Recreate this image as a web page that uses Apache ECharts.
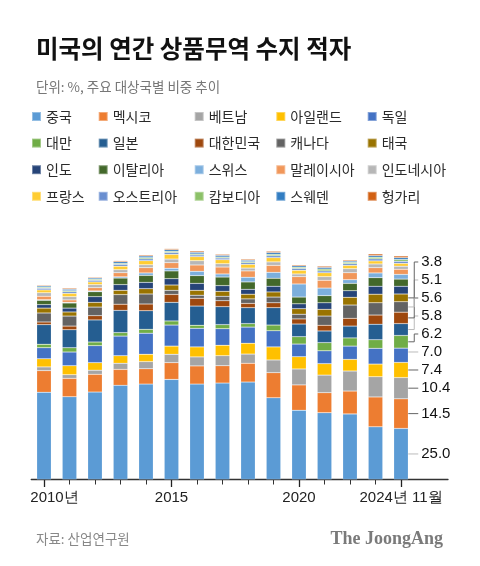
<!DOCTYPE html>
<html><head><meta charset="utf-8">
<script src="https://cdn.jsdelivr.net/npm/echarts@6/dist/echarts.min.js"></script>
<style>html,body{margin:0;padding:0;background:#fff}#c{width:480px;height:566px}</style>
</head><body><div id="c"></div>
<script>
// ---- data ----
const years = [2010,2011,2012,2013,2014,2015,2016,2017,2018,2019,2020,2021,2022,2023,2024];
const countries = ['중국','멕시코','베트남','아일랜드','독일','대만','일본','대한민국','캐나다','태국','인도','이탈리아','스위스','말레이시아','인도네시아','프랑스','오스트리아','캄보디아','스웨덴','헝가리'];
const china      = [42.7,40.5,42.8,46.1,46.7,49.0,46.7,47.2,47.7,40.0,33.9,32.7,32.1,25.8,25.0];
const mexico     = [10.6, 9.0, 8.7, 7.8, 7.5, 8.2, 8.9, 8.5, 9.2,12.3,12.4, 9.8,11.2,14.6,14.5];
const vietnam    = [ 1.8, 1.8, 2.0, 3.0, 3.5, 4.1, 4.4, 4.9, 4.5, 6.2, 7.8, 8.6, 9.8, 9.9,10.4];
const ireland    = [ 4.0, 4.4, 3.7, 3.7, 3.6, 4.0, 4.9, 5.1, 5.3, 6.4, 6.0, 5.6, 5.7, 6.2, 7.4];
const germany    = [ 5.4, 6.7, 8.3, 9.6,10.3,10.3, 9.1, 8.1, 7.9, 7.9, 6.2, 6.3, 6.5, 7.7, 7.0];
const taiwan     = [ 1.7, 2.1, 1.8, 1.7, 1.9, 2.0, 1.5, 2.0, 1.7, 2.8, 3.6, 4.0, 4.0, 4.2, 6.2];
const japan      = [ 9.6, 8.8,10.8,10.9, 9.1, 9.1, 9.4, 8.8, 7.8, 8.5, 6.2, 5.7, 5.8, 7.6, 5.8];
const korea      = [ 1.3, 1.8, 2.1, 3.0, 3.3, 3.9, 3.8, 2.9, 2.1, 2.4, 2.5, 2.8, 3.8, 4.5, 5.6];
const canada     = [ 4.4, 4.9, 4.2, 4.7, 4.9, 2.0, 1.5, 2.2, 2.2, 2.8, 2.3, 4.5, 6.5, 6.0, 5.1];
const thailand   = [ 2.4, 2.0, 2.3, 2.1, 2.6, 2.6, 2.4, 2.4, 2.3, 2.5, 2.7, 3.3, 3.8, 4.2, 3.8];
const india      = [ 1.7, 1.9, 2.8, 2.8, 3.1, 3.1, 3.4, 2.8, 2.4, 2.8, 2.4, 3.2, 3.2, 3.9, 3.8];
const italy      = [ 2.1, 2.5, 2.4, 3.2, 3.4, 3.8, 3.8, 4.2, 3.6, 3.9, 3.3, 3.5, 3.6, 4.2, 3.5];
const switzerland= [ 0.3, 0.3, 0.4, 0.6, 1.2, 1.3, 2.1, 1.5, 2.3, 2.9, 6.4, 3.7, 1.8, 2.3, 2.3];
const malaysia   = [ 1.7, 1.2, 1.6, 2.0, 2.6, 2.7, 3.1, 3.4, 3.1, 3.4, 3.6, 3.8, 3.4, 2.6, 2.5];
const indonesia  = [ 1.7, 1.6, 1.5, 1.5, 1.4, 1.8, 2.1, 1.6, 1.4, 1.7, 1.3, 1.8, 2.0, 1.8, 1.5];
const france     = [ 1.4, 1.6, 1.3, 1.7, 2.0, 2.3, 2.0, 2.0, 1.8, 2.1, 1.8, 1.9, 1.6, 1.5, 1.4];
const austria    = [ 0.8, 0.8, 0.8, 0.9, 0.9, 0.9, 0.8, 0.8, 0.8, 0.9, 0.9, 0.9, 0.8, 1.0, 1.0];
const cambodia   = [ 0.5, 0.5, 0.5, 0.5, 0.6, 0.6, 0.5, 0.5, 0.5, 0.7, 0.6, 0.9, 0.7, 0.8, 0.9];
const sweden     = [ 0.6, 0.7, 0.6, 0.8, 0.8, 0.8, 0.8, 0.8, 0.7, 0.9, 0.7, 0.8, 0.6, 0.8, 0.9];
const hungary    = [ 0.4, 0.5, 0.4, 0.5, 0.5, 0.5, 0.6, 0.5, 0.5, 0.6, 0.5, 0.6, 0.5, 0.8, 0.8];
const seriesValues = [china,mexico,vietnam,ireland,germany,taiwan,japan,korea,canada,thailand,india,italy,switzerland,malaysia,indonesia,france,austria,cambodia,sweden,hungary];
const tickLabelValues = [2010, 2015, 2020, 2024];
const tickLabelTexts = ['2010년', '2015', '2020', '2024년 11월'];
const labeledCount = 10; // last-year values labelled for the first 10 countries

// ---- style ----
const colors = ['#5B9BD5','#ED7D31','#A5A5A5','#FFC000','#4472C4','#70AD47','#255E91','#9E480E','#636363','#997300',
                '#264478','#43682B','#7CAFDD','#F1975A','#B7B7B7','#FFCD33','#698ED0','#8CC168','#327DC2','#D26012'];
const lineColors = ['#bbb','#666','#666','#666','#bbb','#666','#bbb','#666','#bbb','#666'];
const KR = "'Noto Sans CJK KR', 'Noto Sans', sans-serif";
const NUM = "'Liberation Sans', Arial, sans-serif";
const barWidth = 14.5;
const labelGap = 18;

const legends = [];
const legendLefts = [31, 97.7, 193.7, 275.3, 366.7];
for (let c = 0; c < 5; c++) {
  const names = [];
  for (let r = 0; r < 4; r++) names.push(countries[c + r * 5]);
  legends.push({
    data: names, orient: 'vertical', left: legendLefts[c], top: 108.5, padding: 0,
    itemWidth: 9, itemHeight: 9, itemGap: 10.6, icon: 'rect', selectedMode: false,
    textStyle: { fontSize: 14, lineHeight: 16, color: '#2a2a2a', fontFamily: KR }
  });
}

const pxPerUnit = 2.043;
const yMax = 116;
const baseY = 479.5;
const gridTop = baseY - yMax * pxPerUnit;
const band = 25.5;
const plotLeft = 31.25;
const axisRight = 448;

// leader lines + value labels for the last bar, positioned through the axes' coord()
function renderLabel(params, api) {
  const k = api.value(1);
  const last = years.length - 1;
  const x0 = api.coord([last, 0])[0] + barWidth / 2;
  let below = 0, ly = null, cy = 0, top = 0, bot = 0;
  for (let s = 0; s <= k; s++) {
    const v = seriesValues[s][last];
    bot = api.coord([last, below])[1];
    top = api.coord([last, below + v])[1];
    cy = (bot + top) / 2;
    ly = (ly === null) ? cy : Math.min(cy, ly - labelGap);
    below += v;
  }
  const lx = x0 + 13, turn = x0 + 6;
  const inside = ly >= top + 0.5 && ly <= bot - 0.5;
  const pts = inside ? [[x0, ly], [lx - 3, ly]] : [[x0, cy], [turn, cy], [turn, ly], [lx - 3, ly]];
  return {
    type: 'group',
    children: [
      { type: 'polyline', shape: { points: pts }, style: { stroke: lineColors[k], lineWidth: 1, fill: 'none' } },
      { type: 'text', x: lx, y: ly, style: { text: seriesValues[k][last].toFixed(1), fill: '#111', fontSize: 15, fontFamily: NUM, align: 'left', verticalAlign: 'middle' } }
    ]
  };
}

const labelRows = [];
for (let k = 0; k < labeledCount; k++) labelRows.push([years.length - 1, k]);

const series = countries.map((name, i) => ({
  name, type: 'bar', stack: 'total', xAxisIndex: 0, yAxisIndex: 0, barWidth: barWidth,
  itemStyle: { color: colors[i], borderColor: 'rgba(255,255,255,0.35)', borderWidth: 0.5 },
  data: seriesValues[i]
}));
series.push({
  name: 'labels', type: 'custom', xAxisIndex: 0, yAxisIndex: 0, clip: false, silent: true, z: 10,
  renderItem: renderLabel, data: labelRows
});

const option = {
  animation: false,
  backgroundColor: '#fff',
  color: colors,
  title: [
    { text: '미국의 연간 상품무역 수지 적자', left: 31, top: 31,
      textStyle: { fontSize: 24.5, fontWeight: 'bold', color: '#111', fontFamily: KR } },
    { text: '단위: %, 주요 대상국별 비중 추이', left: 31, top: 75.5,
      textStyle: { fontSize: 13.5, fontWeight: 'normal', color: '#777', fontFamily: KR } },
    { text: '자료: 산업연구원', left: 31, top: 527.5,
      textStyle: { fontSize: 13.5, fontWeight: 'normal', color: '#888', fontFamily: KR } },
    { text: 'The JoongAng', right: 32, top: 525.5,
      textStyle: { fontSize: 18, fontWeight: 'bold', color: '#7a7a7a', fontFamily: "'Liberation Serif', 'DejaVu Serif', serif" } }
  ],
  legend: legends,
  grid: [
    { left: plotLeft, width: band * years.length, top: gridTop, bottom: 566 - baseY, containLabel: false, outerBoundsMode: 'none' },
    { left: plotLeft, right: 480 - axisRight, top: gridTop, bottom: 566 - baseY, containLabel: false, outerBoundsMode: 'none' }
  ],
  xAxis: [
    { type: 'category', gridIndex: 0, data: years, boundaryGap: true, show: false },
    { type: 'value', gridIndex: 1, min: years[0] - 0.5, max: years[0] - 0.5 + (axisRight - plotLeft) / band, position: 'bottom',
      axisLine: { show: true, onZero: false, lineStyle: { color: '#333', width: 1.3 } },
      axisTick: { show: true, customValues: years, length: 5, lineStyle: { color: '#333', width: 1 } },
      axisLabel: { show: false }, splitLine: { show: false } },
    { type: 'value', gridIndex: 1, min: years[0] - 0.5, max: years[0] - 0.5 + (axisRight - plotLeft) / band, position: 'bottom',
      axisLine: { show: false, onZero: false },
      axisTick: { show: true, customValues: tickLabelValues, length: 7.5, lineStyle: { color: '#222', width: 1.3 } },
      axisLabel: { show: true, customValues: tickLabelValues, margin: 11, fontSize: 15, color: '#222', fontFamily: NUM,
        formatter: v => { const t = tickLabelTexts[tickLabelValues.indexOf(v)]; return v === tickLabelValues[0] ? '{a|' + t + '}' : t; },
        rich: { a: { padding: [0, 0, 0, 21], fontSize: 15, color: '#222', fontFamily: NUM } } },
      splitLine: { show: false } }
  ],
  yAxis: [
    { type: 'value', gridIndex: 0, min: 0, max: yMax, show: false },
    { type: 'value', gridIndex: 1, min: 0, max: yMax, show: false }
  ],
  series: series
};

const chart = echarts.init(document.getElementById('c'), null, { renderer: 'canvas' });
chart.setOption(option);
</script>
</body></html>
